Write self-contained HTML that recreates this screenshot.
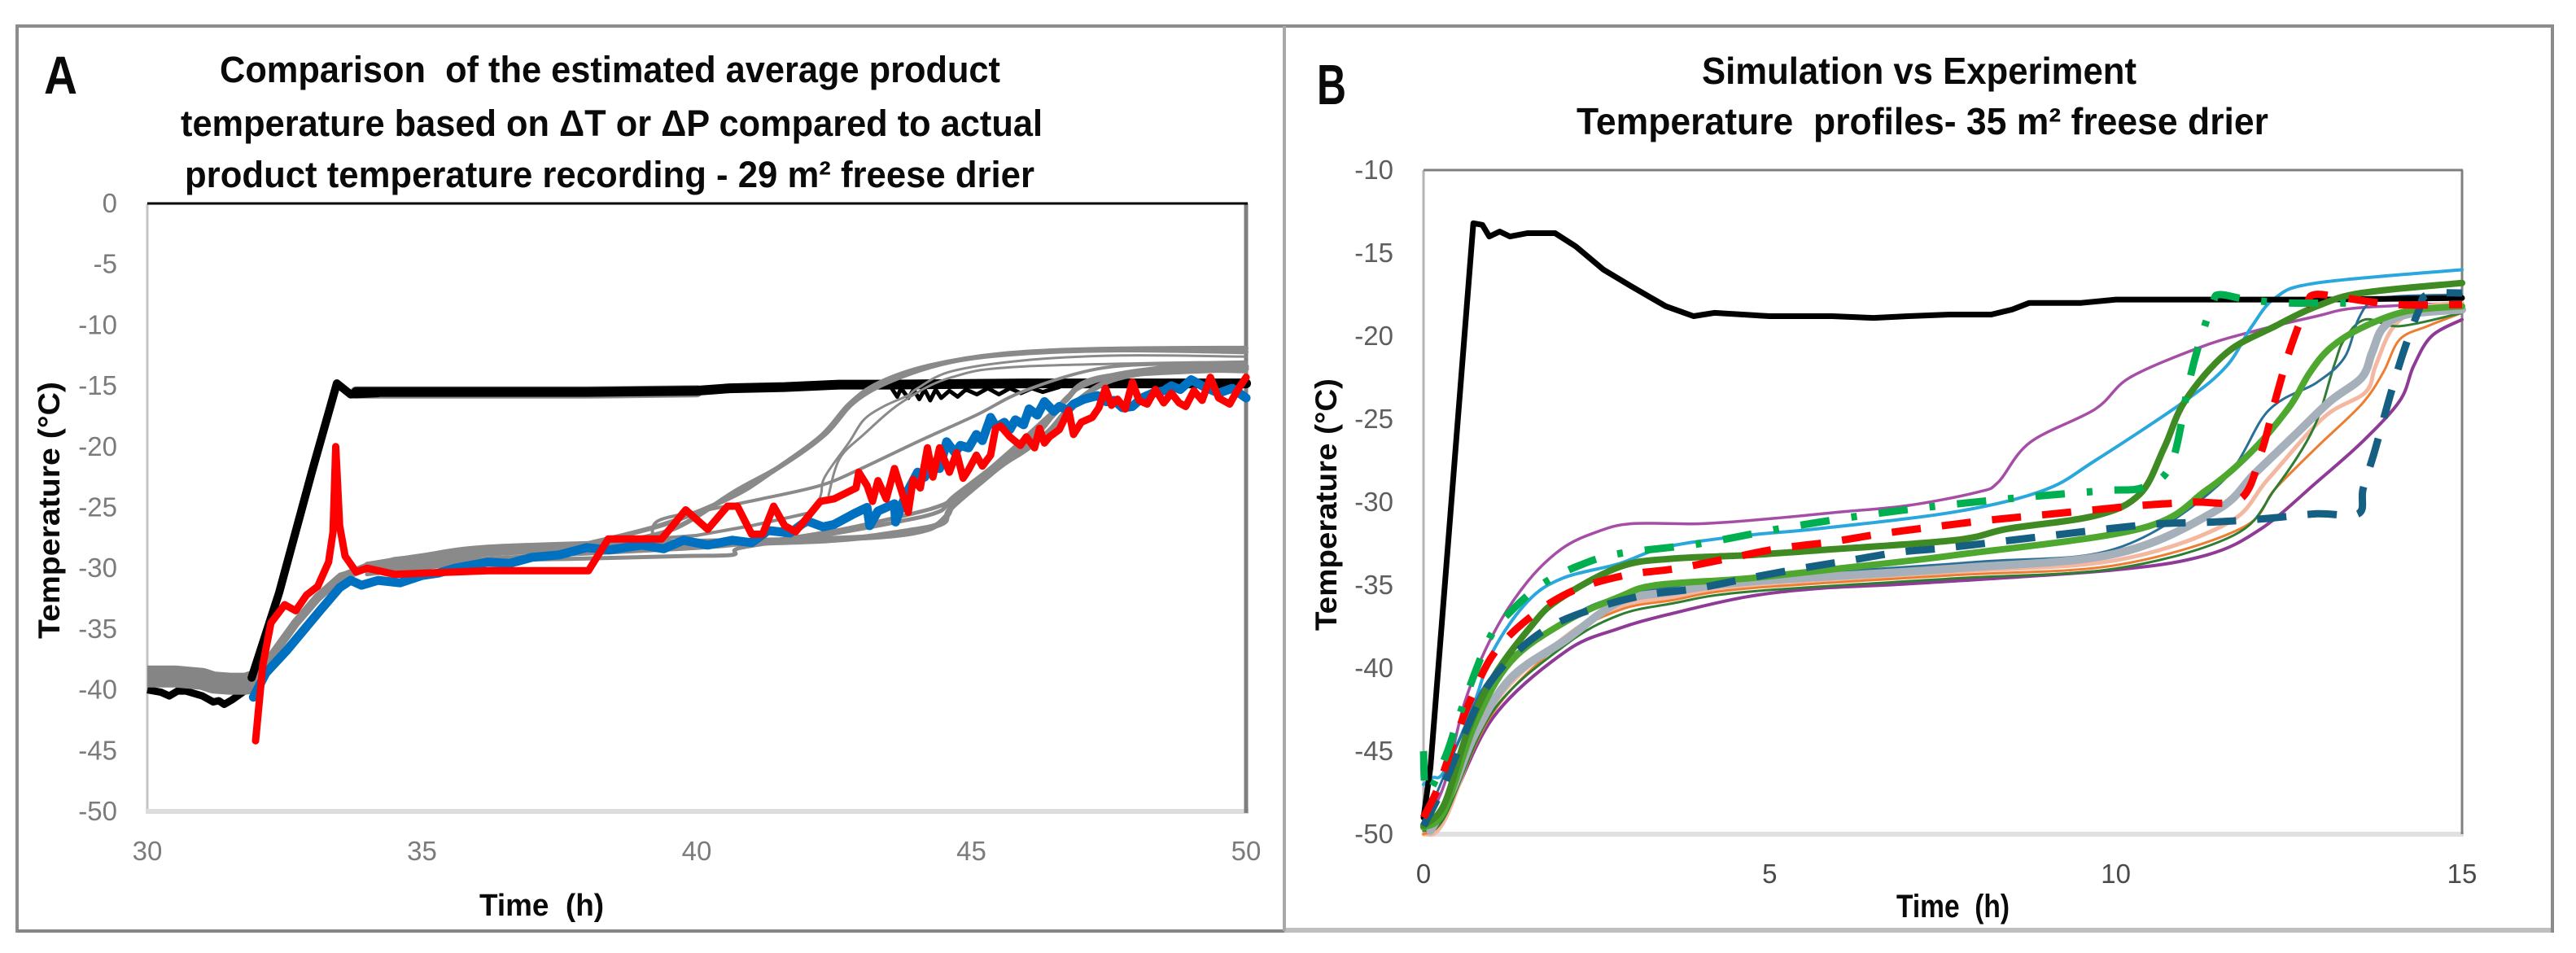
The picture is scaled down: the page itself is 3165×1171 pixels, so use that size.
<!DOCTYPE html>
<html lang="en">
<head>
<meta charset="utf-8">
<title>Temperature comparison charts</title>
<style>
html,body{margin:0;padding:0;background:#fff;width:3165px;height:1171px;overflow:hidden}
svg{display:block;font-family:"Liberation Sans",sans-serif}
.title{font-weight:700;fill:#0a0a0a}
.lab{font-weight:700;fill:#0a0a0a}
</style>
</head>
<body>
<svg id="figure" xmlns="http://www.w3.org/2000/svg" width="3165" height="1171" viewBox="0 0 3165 1171">
  <rect width="3165" height="1171" fill="#fff"/>
  <g>
    <line x1="21" y1="32" x2="3138" y2="32" stroke="#8c8c8c" stroke-width="4"/>
    <line x1="21" y1="30" x2="21" y2="1146" stroke="#8c8c8c" stroke-width="4"/>
    <line x1="21" y1="1144" x2="1578" y2="1144" stroke="#858585" stroke-width="4"/>
    <line x1="1578" y1="1143" x2="3138" y2="1143" stroke="#bfbfbf" stroke-width="6"/>
    <line x1="1578" y1="32" x2="1578" y2="1144" stroke="#a8a8a8" stroke-width="4"/>
    <line x1="3136" y1="30" x2="3136" y2="1146" stroke="#8c8c8c" stroke-width="4"/>
  </g>

  <text class="title" x="54" y="115" font-size="66" textLength="41" lengthAdjust="spacingAndGlyphs">A</text>
  <text class="title" x="1618" y="128" font-size="70" textLength="36" lengthAdjust="spacingAndGlyphs">B</text>

  <g font-size="45" class="title">
    <text x="270" y="101" textLength="959" lengthAdjust="spacingAndGlyphs" xml:space="preserve">Comparison  of the estimated average product</text>
    <text x="222" y="167" textLength="1059" lengthAdjust="spacingAndGlyphs">temperature based on ΔT or ΔP compared to actual</text>
    <text x="227" y="230" textLength="1044" lengthAdjust="spacingAndGlyphs">product temperature recording - 29 m² freese drier</text>
  </g>
  <g font-size="46" class="title">
    <text x="2091" y="103" textLength="534" lengthAdjust="spacingAndGlyphs">Simulation vs Experiment</text>
    <text x="1937" y="165" textLength="850" lengthAdjust="spacingAndGlyphs" xml:space="preserve">Temperature  profiles- 35 m² freese drier</text>
  </g>

  <text class="lab" x="589" y="1125" font-size="38" textLength="153" lengthAdjust="spacingAndGlyphs" xml:space="preserve">Time  (h)</text>
  <text class="lab" x="2330" y="1127" font-size="40" textLength="139" lengthAdjust="spacingAndGlyphs" xml:space="preserve">Time  (h)</text>
  <text class="lab" transform="translate(73,785) rotate(-90)" font-size="37" textLength="316" lengthAdjust="spacingAndGlyphs">Temperature (°C)</text>
  <text class="lab" transform="translate(1642,775) rotate(-90)" font-size="37" textLength="310" lengthAdjust="spacingAndGlyphs">Temperature (°C)</text>

  <g id="panelA"></g>
  <g id="panelB"></g>
</svg>

<script>
/* ---------- Panel A data ---------- */
const aXTicks = [30, 35, 40, 45, 50];
const aYTicks = [0, -5, -10, -15, -20, -25, -30, -35, -40, -45, -50];

const aBlackPreTime = [30, 30.25, 30.4, 30.55, 30.7, 31, 31.2, 31.3, 31.4, 31.55, 31.8, 32];
const aBlackPreTemp = [-40, -40.2, -40.5, -40.1, -40.1, -40.5, -41, -40.9, -41.2, -40.8, -40, -38.5];
const aBlackRampTime = [31.9, 32.4, 33, 33.45, 33.7, 34.2];
const aBlackRampTemp = [-39, -32, -22, -14.8, -15.7, -15.6];
const aBlackPlateauTime = [33.8, 36, 38, 40, 40.6, 41.6, 42.6, 43.5, 46, 50];
const aBlackPlateauTemp = [-15.5, -15.5, -15.5, -15.4, -15.2, -15.1, -14.9, -14.9, -14.8, -14.8];
const aBlackNoiseTime = [43.55, 43.65, 43.72, 43.85, 43.95, 44.05, 44.15, 44.25, 44.35, 44.45, 44.6, 44.75, 44.9, 45.1, 45.3, 45.5, 45.7, 45.9, 46.1, 46.3, 46.6];
const aBlackNoiseTemp = [-15.2, -15.9, -15.2, -16, -15.3, -16.1, -15.3, -16.2, -15.3, -16, -15.4, -15.9, -15.3, -15.7, -15.2, -15.7, -15.2, -15.6, -15.2, -15.5, -15.1];

const aGrayBandTime = [30, 30.5, 31, 31.2, 31.5, 31.8, 32];
const aGrayBandTemp = [-38.9, -38.9, -39.1, -39.4, -39.5, -39.5, -39.2];
const aGrayRampTime = [31.95, 32.3, 32.7, 33.1, 33.5, 34, 35, 36];
const aGrayRampTemp = [-39.5, -37, -34.5, -32.4, -30.8, -29.9, -29.3, -28.9];
const aGrayMid1Time = [33.5, 34.5, 36, 38, 40, 41, 42];
const aGrayMid1Temp = [-30.5, -29.2, -28.5, -28, -27.3, -26.5, -25.5];
const aGray1Time = [38, 39.4, 40.65, 41.36, 42.25, 42.78, 43.31, 44.2, 45.53, 47.3, 50];
const aGray1Temp = [-28, -26.4, -24.1, -22.1, -19.2, -16.5, -14.8, -13.4, -12.4, -12, -11.9];
const aGray2Time = [38, 39.5, 40.73, 41.53, 42.33, 42.87, 43.58, 44.64, 45.97, 47.75, 50];
const aGray2Temp = [-28.2, -26.9, -23.6, -21.6, -19, -16.3, -14.5, -13, -12.3, -12.05, -12.2];
const aGray3Time = [42, 42.25, 42.33, 42.78, 43.04, 43.4, 43.84, 44.02, 44.64, 45.97, 47.75, 50];
const aGray3Temp = [-26.5, -24.1, -22.5, -19.6, -17.8, -16.7, -15.8, -15.2, -13.8, -12.9, -12.5, -12.6];
const aGray4Time = [39.2, 39.3, 40.2, 41.18, 42.25, 42.95, 44.02, 45.09, 45.97, 47.3, 48.64, 50];
const aGray4Temp = [-27.6, -26.1, -25.2, -24.3, -23.2, -21.9, -19.6, -17.4, -15.4, -13.6, -13.2, -13.2];
const aGray4bTime = [42.4, 42.6, 43.04, 43.75, 44.64, 45.97, 50];
const aGray4bTemp = [-24, -21, -19, -16.3, -14.3, -13.4, -13];
const aGray5Time = [34, 35, 36.2, 38.87, 41.53, 43.31, 44.2, 44.55, 44.73, 45.53, 45.97, 46.42, 46.86, 47.57, 48.64, 50];
const aGray5Temp = [-29.7, -29, -28.3, -27.9, -27.7, -27.4, -26.8, -25.7, -24.5, -21.6, -20.3, -18.7, -16.5, -14.5, -13.7, -13.4];
const aGray6Time = [34, 35, 36.2, 39.76, 42.42, 43.75, 44.47, 44.64, 45.44, 46.24, 46.69, 47.4, 50];
const aGray6Temp = [-30.2, -29.6, -28.8, -28.1, -27.7, -27, -26.3, -25, -21.9, -18.7, -16.3, -14.3, -13.6];
const aGray7Time = [34, 35, 36.2, 38, 39.76, 40.65, 40.82, 42.42, 43.75, 44.38, 44.64, 45.62, 46.42, 47.04, 48.2, 50];
const aGray7Temp = [-30.5, -30, -29.4, -29.2, -29, -28.9, -28.3, -27.2, -26.1, -25.4, -24.5, -20.7, -17.4, -15, -13.8, -13.8];
const aGray8Time = [34, 35, 36.2, 38.87, 40.65, 42.42, 43.75, 44.47, 44.73, 45.71, 46.42, 47.13, 48.64, 50];
const aGray8Temp = [-30.2, -29.7, -29.2, -28.6, -28.1, -27, -25.7, -24.8, -23.9, -20.5, -17.8, -14.7, -13.4, -13.2];

const aBlueTime = [31.93, 32.16, 32.53, 33.14, 33.5, 33.7, 33.9, 34.2, 34.6, 35, 35.3, 35.6, 36.2, 36.6, 37, 37.5, 38, 38.4, 39, 39.4, 39.76, 40.2, 40.65, 41, 41.3, 41.7, 42, 42.3, 42.5, 42.87, 43.1, 43.15, 43.3, 43.6, 43.62, 43.8, 44.02, 44.15, 44.3, 44.42, 44.55, 44.7, 44.8, 44.95, 45.09, 45.2, 45.35, 45.45, 45.6, 45.7, 45.8, 45.95, 46.05, 46.2, 46.33, 46.5, 46.6, 46.75, 46.86, 47.05, 47.3, 47.45, 47.6, 47.75, 47.93, 48.1, 48.3, 48.5, 48.64, 48.8, 49, 49.2, 49.5, 49.75, 50];
const aBlueTemp = [-40.6, -38.6, -36.8, -33.5, -31.6, -31, -31.4, -31, -31.2, -30.6, -30.4, -30, -29.5, -29.6, -29.1, -28.9, -28.3, -28.5, -28.1, -28.4, -27.7, -28.1, -27.7, -27.9, -26.9, -27.1, -26.1, -26.6, -26.4, -25.5, -25, -26.5, -25.3, -24.7, -26.2, -24, -22.1, -22.5, -21.3, -21.8, -19.6, -20.5, -19.9, -20.1, -19, -19.5, -17.6, -18.4, -18, -18.6, -17.8, -18.2, -16.9, -17.4, -16.3, -17.1, -16.7, -17, -16.5, -16.1, -15.8, -16.3, -16.2, -16.8, -16.7, -16, -15.6, -15.4, -15, -15.3, -14.5, -15, -15.6, -15.2, -16];

const aRedTime = [31.97, 32.1, 32.25, 32.5, 32.7, 32.9, 33.1, 33.3, 33.38, 33.43, 33.5, 33.6, 33.8, 34, 34.5, 36.2, 38.03, 38.39, 39.36, 39.8, 40.2, 40.56, 40.74, 41, 41.2, 41.4, 41.6, 41.8, 42.25, 42.5, 42.9, 42.95, 43.1, 43.2, 43.3, 43.45, 43.6, 43.85, 43.94, 44.07, 44.2, 44.3, 44.42, 44.6, 44.73, 44.85, 44.95, 45.09, 45.2, 45.35, 45.44, 45.53, 45.7, 45.89, 46, 46.15, 46.24, 46.33, 46.42, 46.6, 46.77, 46.86, 47, 47.2, 47.32, 47.44, 47.55, 47.66, 47.8, 47.93, 48.05, 48.2, 48.35, 48.5, 48.64, 48.78, 48.9, 49.05, 49.2, 49.35, 49.5, 49.7, 49.85, 50];
const aRedTemp = [-44.2, -38, -34.5, -33, -33.5, -32.2, -31.5, -29.5, -27, -20, -26.5, -29, -30.3, -30, -30.5, -30.2, -30.2, -27.6, -27.6, -25.2, -26.8, -24.9, -24.9, -27.2, -27.2, -24.9, -26.5, -27, -24.5, -24.3, -23.4, -22.1, -23.2, -24.5, -22.8, -24.3, -21.8, -25.4, -22.7, -23.4, -20.1, -22.5, -20.1, -22.1, -20.5, -22.6, -21.9, -20.7, -21.6, -20.7, -18.5, -18.3, -19.2, -19.9, -19.2, -20.1, -18.5, -19.7, -19.2, -18.6, -17, -19, -18, -17.6, -16.8, -15.2, -16.6, -16.1, -16.9, -14.7, -16.2, -16.5, -15.3, -16.4, -15.6, -16.4, -16.7, -15.4, -16.2, -14.3, -16, -16.5, -15.3, -14.3];

/* ---------- Panel B data ---------- */
const bXTicks = [0, 5, 10, 15];
const bYTicks = [-10, -15, -20, -25, -30, -35, -40, -45, -50];

const bBlackTime = [0, 0.1, 0.72, 0.85, 0.95, 1.1, 1.25, 1.5, 1.9, 2.2, 2.6, 3, 3.5, 3.9, 4.2, 5, 5.9, 6.5, 7, 7.6, 8.2, 8.5, 8.75, 9.5, 10, 11, 12, 13, 15];
const bBlackTemp = [-49, -46, -13.2, -13.3, -14, -13.7, -14, -13.8, -13.8, -14.6, -16, -17, -18.2, -18.8, -18.6, -18.8, -18.8, -18.9, -18.8, -18.7, -18.7, -18.4, -18, -18, -17.8, -17.8, -17.8, -17.8, -17.7];
const bPurpleTopTime = [0, 0.3, 0.6, 1, 1.5, 2, 2.5, 3, 4, 5, 6, 7, 8, 8.3, 8.76, 9.7, 10.2, 11.2, 11.95, 12.9, 13.5, 15];
const bPurpleTopTemp = [-49.5, -47, -42, -38, -34.8, -32.8, -31.8, -31.3, -31.3, -31, -30.6, -30.2, -29.4, -28.8, -26.4, -24.4, -22.5, -20.7, -19.75, -18.8, -18.3, -18];
const bLightBlueTime = [0, 0.13, 0.3, 0.7, 1, 1.5, 2, 2.83, 3.5, 4.67, 5.7, 7.66, 8.95, 9.7, 11, 11.6, 11.95, 12.3, 12.9, 15];
const bLightBlueTemp = [-47, -46.6, -46.2, -42.5, -39, -36, -34.6, -33.7, -32.7, -32, -31.6, -30.6, -29.3, -27.5, -23.9, -21.8, -19.5, -17.7, -16.8, -16];
const bPurpleLowTime = [0, 0.3, 1, 2.05, 2.83, 3.6, 4.67, 5.7, 7.07, 9.94, 11.3, 12.1, 12.9, 13.55, 14.1, 14.3, 14.56, 15];
const bPurpleLowTemp = [-50, -49, -43, -39, -37.6, -36.7, -35.7, -35.2, -34.9, -34.1, -33.2, -31.6, -28.8, -26.4, -23.9, -21.8, -20, -19];
const bOrangeTime = [0, 0.3, 1, 2.05, 2.83, 3.6, 4.67, 7.66, 10, 11.8, 12.3, 12.9, 13.55, 13.86, 14.1, 14.5, 15];
const bOrangeTemp = [-50, -49, -42.7, -38.3, -36.5, -35.9, -35.2, -34.4, -33.8, -31.6, -29.2, -26.7, -24.1, -22.2, -20.2, -19.4, -18.6];
const bPaleOrangeTime = [0, 0.3, 1, 2.05, 2.83, 3.6, 4.67, 7.66, 10, 11.6, 12.2, 13, 13.6, 13.75, 14, 14.4, 15];
const bPaleOrangeTemp = [-50, -49.2, -42.3, -38.1, -36.3, -35.7, -35, -34.2, -33.5, -31.3, -28.6, -24.9, -23.4, -21.8, -19.5, -18.3, -18];
const bDarkThinTime = [0, 0.3, 1, 2.05, 2.83, 3.6, 4.67, 7.66, 10, 11.7, 12.3, 12.85, 13.15, 13.3, 13.6, 14.1, 15];
const bDarkThinTemp = [-49.8, -49, -42.6, -38.6, -36.8, -36.1, -35.4, -34.6, -34, -32, -29.2, -25.6, -21.8, -20.2, -19, -19.4, -18.6];
const bSteelTime = [0, 0.5, 1, 2, 3, 5, 8, 10, 11.5, 12.2, 12.9, 13.3, 13.5, 13.7, 14.1, 15];
const bSteelTemp = [-49.5, -44.5, -40.4, -37.2, -35.5, -34.5, -33.6, -32.8, -28.9, -24.5, -22.8, -21.3, -19, -17.9, -17.6, -17.5];
const bGrayBlueTime = [0.1, 0.4, 0.74, 1.26, 2.05, 2.83, 3.6, 4.67, 7.66, 10, 11.45, 12, 12.6, 13.1, 13.55, 13.7, 13.86, 14.2, 15];
const bGrayBlueTemp = [-49.8, -47.5, -44, -40.6, -38.3, -36, -35.4, -34.8, -34, -33.1, -30.5, -28.3, -25.9, -23.9, -22.5, -21, -19.5, -18.7, -18.4];
const bGreenLightTime = [0, 0.3, 0.74, 1.26, 2.05, 2.83, 3.36, 4.67, 6, 7.66, 10.35, 11.3, 11.95, 12.5, 12.8, 13.1, 13.55, 14.2, 15];
const bGreenLightTemp = [-49.6, -48.6, -43.4, -39.6, -37.2, -35.7, -35, -34.6, -34, -33.2, -31.6, -29.3, -27, -24.3, -22.2, -20.7, -19.5, -18.5, -18.2];
const bGreenDarkTime = [0, 0.3, 0.63, 1, 1.53, 1.94, 2.83, 3.6, 4.67, 5.7, 7.66, 8.45, 9.72, 10.35, 10.7, 11, 11.6, 12.3, 12.9, 13.55, 15];
const bGreenDarkTemp = [-49.5, -48.2, -43.9, -40.6, -37.6, -35.9, -33.9, -33.4, -33.2, -32.9, -32.3, -31.6, -30.8, -29.5, -26.7, -23.9, -21, -19.4, -18.2, -17.4, -16.8];
const bTealDashTime = [0, 0.3, 0.79, 1.21, 1.79, 2.47, 3.2, 3.94, 4.67, 5.44, 6.17, 6.9, 7.66, 9.9, 10.65, 11.4, 12.14, 12.9, 13.5, 13.57, 13.74, 13.94, 14.15, 14.37, 14.5, 15];
const bTealDashTemp = [-49.5, -47, -42.1, -39.6, -37.6, -36.4, -35.6, -35.2, -34.6, -34, -33.5, -33, -32.7, -31.6, -31.3, -31.2, -31, -30.7, -30.7, -29.2, -26.9, -23.9, -21, -18.5, -17.5, -17.4];
const bRedDashTime = [0, 0.2, 0.42, 0.68, 1.02, 1.55, 2.18, 2.92, 3.65, 4.39, 5.12, 5.88, 6.62, 7.35, 8.13, 8.86, 9.6, 10.35, 11.1, 11.8, 12.1, 12.3, 12.5, 12.75, 12.87, 13.3, 14.05, 15];
const bRedDashTemp = [-49, -47.3, -44.7, -41.9, -39.1, -36.9, -35.3, -34.4, -34, -33.4, -32.8, -32.4, -31.9, -31.5, -31.1, -30.8, -30.5, -30.2, -30, -29.8, -27, -23.9, -21, -18.2, -17.5, -17.7, -18.1, -18.1];
const bGreenDashTime = [0, 0.05, 0.32, 0.53, 0.94, 1.28, 1.73, 2.26, 2.83, 3.99, 5.15, 6.35, 7.5, 8.7, 9.85, 10.4, 10.8, 11.05, 11.2, 11.4, 11.5, 11.9, 12.5, 13.55];
const bGreenDashTemp = [-45, -47.5, -45.3, -42.7, -38.3, -36.5, -34.9, -33.8, -33.1, -32.5, -31.6, -30.8, -30.2, -29.7, -29.3, -29.1, -27.7, -22.9, -20.5, -18, -17.5, -17.8, -18, -18];

/* ---------- Scales ---------- */
const SVGNS = 'http://www.w3.org/2000/svg';
const aX = t => 181 + (t - 30) / 20 * 1350;
const aY = v => 250 + (-v) / 50 * 747;
const bX = t => 1749 + t / 15 * 1276;
const bY = v => 209 + (-10 - v) / 40 * 816;

function linePath(xs, ys, sx, sy) {
  return xs.map((x, i) => (i ? 'L' : 'M') + sx(x).toFixed(1) + ' ' + sy(ys[i]).toFixed(1)).join('');
}
function smoothPath(xs, ys, sx, sy) {
  const p = xs.map((x, i) => [sx(x), sy(ys[i])]);
  let d = 'M' + p[0][0].toFixed(1) + ' ' + p[0][1].toFixed(1);
  for (let i = 0; i < p.length - 1; i++) {
    const a = p[Math.max(i - 1, 0)], b = p[i], c = p[i + 1], e = p[Math.min(i + 2, p.length - 1)];
    const k = 1 / 6;
    d += 'C' + (b[0] + (c[0] - a[0]) * k).toFixed(1) + ' ' + (b[1] + (c[1] - a[1]) * k).toFixed(1) + ' ' +
         (c[0] - (e[0] - b[0]) * k).toFixed(1) + ' ' + (c[1] - (e[1] - b[1]) * k).toFixed(1) + ' ' +
         c[0].toFixed(1) + ' ' + c[1].toFixed(1);
  }
  return d;
}
function addSeries(group, name, xs, ys, sx, sy, color, width, dash, smooth, cap) {
  const el = document.createElementNS(SVGNS, 'path');
  
  
  el.setAttribute('d', smooth ? smoothPath(xs, ys, sx, sy) : linePath(xs, ys, sx, sy));
  el.setAttribute('fill', 'none');
  el.setAttribute('stroke', color);
  el.setAttribute('stroke-width', width);
  el.setAttribute('stroke-linejoin', 'round');
  el.setAttribute('stroke-linecap', cap || (dash ? 'butt' : 'round'));
  if (dash) el.setAttribute('stroke-dasharray', dash);
  group.appendChild(el);
}
function addAxisLine(group, name, x1, y1, x2, y2, color, width) {
  const el = document.createElementNS(SVGNS, 'line');
  
  
  el.setAttribute('x1', x1);
  el.setAttribute('y1', y1);
  el.setAttribute('x2', x2);
  el.setAttribute('y2', y2);
  el.setAttribute('stroke', color);
  el.setAttribute('stroke-width', width);
  group.appendChild(el);
}
function addTick(group, name, x, y, label, anchor, color) {
  const el = document.createElementNS(SVGNS, 'text');
  
  
  el.setAttribute('x', x);
  el.setAttribute('y', y);
  el.setAttribute('text-anchor', anchor);
  el.setAttribute('font-size', '33');
  el.setAttribute('fill', color);
  el.textContent = label;
  group.appendChild(el);
}

/* ---------- Panel A ---------- */
const gA = document.getElementById('panelA');
addAxisLine(gA, 'panel-a-axis-left', aX(30), aY(0), aX(30), aY(-50), '#c4c4c4', 3);
addAxisLine(gA, 'panel-a-axis-bottom', aX(30) - 2, aY(-50), aX(50) + 3, aY(-50), '#dcdcdc', 6);
addAxisLine(gA, 'panel-a-axis-right', aX(50), aY(0), aX(50), aY(-50) + 2, '#7f7f7f', 5);
addAxisLine(gA, 'panel-a-axis-top', aX(30), aY(0), aX(50) + 2, aY(0), '#000', 3);
aYTicks.forEach(v => addTick(gA, 'panel-a-y-tick-' + v, 144, aY(v) + 11, String(v), 'end', '#7b7b7b'));
aXTicks.forEach(t => addTick(gA, 'panel-a-x-tick-' + t, aX(t), 1057, String(t), 'middle', '#7b7b7b'));

addSeries(gA, 'a-black-pre-trace', aBlackPreTime, aBlackPreTemp, aX, aY, '#000', 9, null, false, 'butt');
addSeries(gA, 'a-gray-plateau-under', aBlackPlateauTime.slice(0, 4), aBlackPlateauTemp.slice(0, 4).map(v => v - 0.05), aX, aY, '#8a8a8a', 15);
addSeries(gA, 'a-black-plateau-trace', aBlackPlateauTime, aBlackPlateauTemp, aX, aY, '#000', 12);
addSeries(gA, 'a-black-noise-trace', aBlackNoiseTime, aBlackNoiseTemp, aX, aY, '#000', 5);
addSeries(gA, 'a-gray-start-band', aGrayBandTime, aGrayBandTemp, aX, aY, '#858585', 27, null, false, 'butt');
addSeries(gA, 'a-gray-ramp', aGrayRampTime, aGrayRampTemp, aX, aY, '#8a8a8a', 11);
addSeries(gA, 'a-gray-mid-1', aGrayMid1Time, aGrayMid1Temp, aX, aY, '#8a8a8a', 4);
addSeries(gA, 'a-gray-probe-1', aGray1Time, aGray1Temp, aX, aY, '#8a8a8a', 6, null, true);
addSeries(gA, 'a-gray-probe-2', aGray2Time, aGray2Temp, aX, aY, '#8a8a8a', 6, null, true);
addSeries(gA, 'a-gray-probe-3', aGray3Time, aGray3Temp, aX, aY, '#8a8a8a', 3, null, true);
addSeries(gA, 'a-gray-probe-4', aGray4Time, aGray4Temp, aX, aY, '#8a8a8a', 4, null, true);
addSeries(gA, 'a-gray-probe-4b', aGray4bTime, aGray4bTemp, aX, aY, '#8a8a8a', 3, null, true);
addSeries(gA, 'a-gray-probe-5', aGray5Time, aGray5Temp, aX, aY, '#8a8a8a', 7, null, true);
addSeries(gA, 'a-gray-probe-6', aGray6Time, aGray6Temp, aX, aY, '#8a8a8a', 7, null, true);
addSeries(gA, 'a-gray-probe-7', aGray7Time, aGray7Temp, aX, aY, '#8a8a8a', 5, null, true);
addSeries(gA, 'a-gray-probe-8', aGray8Time, aGray8Temp, aX, aY, '#8a8a8a', 5, null, true);
addSeries(gA, 'a-black-ramp-trace', aBlackRampTime, aBlackRampTemp, aX, aY, '#000', 10);
addSeries(gA, 'a-blue-estimate', aBlueTime, aBlueTemp, aX, aY, '#0070c0', 11);
addSeries(gA, 'a-red-estimate', aRedTime, aRedTemp, aX, aY, '#ff0000', 9);

/* ---------- Panel B ---------- */
const gB = document.getElementById('panelB');
addAxisLine(gB, 'panel-b-axis-left', bX(0), bY(-10), bX(0), bY(-50), '#b5b5b5', 3);
addAxisLine(gB, 'panel-b-axis-bottom', bX(0), bY(-50), bX(15) + 2, bY(-50), '#e0e0e0', 6);
addAxisLine(gB, 'panel-b-axis-right', bX(15), bY(-10), bX(15), bY(-50), '#808080', 3);
addAxisLine(gB, 'panel-b-axis-top', bX(0), bY(-10), bX(15) + 1, bY(-10), '#808080', 3);
bYTicks.forEach(v => addTick(gB, 'panel-b-y-tick-' + v, 1712, bY(v) + 11, String(v), 'end', '#5e5e5e'));
bXTicks.forEach(t => addTick(gB, 'panel-b-x-tick-' + t, bX(t), 1085, String(t), 'middle', '#4a4a4a'));

addSeries(gB, 'b-purple-upper', bPurpleTopTime, bPurpleTopTemp, bX, bY, '#a64da6', 3.5, null, true);
addSeries(gB, 'b-light-blue', bLightBlueTime, bLightBlueTemp, bX, bY, '#2aa7dc', 4, null, true);
addSeries(gB, 'b-purple-lower', bPurpleLowTime, bPurpleLowTemp, bX, bY, '#8e3a96', 4, null, true);
addSeries(gB, 'b-pale-orange', bPaleOrangeTime, bPaleOrangeTemp, bX, bY, '#f4b8a0', 5, null, true);
addSeries(gB, 'b-orange', bOrangeTime, bOrangeTemp, bX, bY, '#ed7d31', 3, null, true);
addSeries(gB, 'b-dark-green-thin', bDarkThinTime, bDarkThinTemp, bX, bY, '#2f7d32', 3, null, true);
addSeries(gB, 'b-steel-blue-thin', bSteelTime, bSteelTemp, bX, bY, '#2a6f97', 3, null, true);
addSeries(gB, 'b-black-shelf', bBlackTime, bBlackTemp, bX, bY, '#000', 7);
addSeries(gB, 'b-gray-blue', bGrayBlueTime, bGrayBlueTemp, bX, bY, '#a6b0ba', 10, null, true);
addSeries(gB, 'b-green-light', bGreenLightTime, bGreenLightTemp, bX, bY, '#4ea72e', 8, null, true);
addSeries(gB, 'b-green-dark', bGreenDarkTime, bGreenDarkTemp, bX, bY, '#3f8a22', 8, null, true);
addSeries(gB, 'b-teal-dash', bTealDashTime, bTealDashTemp, bX, bY, '#156082', 9, '36 26', true);
addSeries(gB, 'b-red-dash', bRedDashTime, bRedDashTemp, bX, bY, '#ff0000', 9, '36 26', true);
addSeries(gB, 'b-green-dash-dot', bGreenDashTime, bGreenDashTemp, bX, bY, '#00b050', 9, '36 27 7 27', true);
</script>
</body>
</html>
